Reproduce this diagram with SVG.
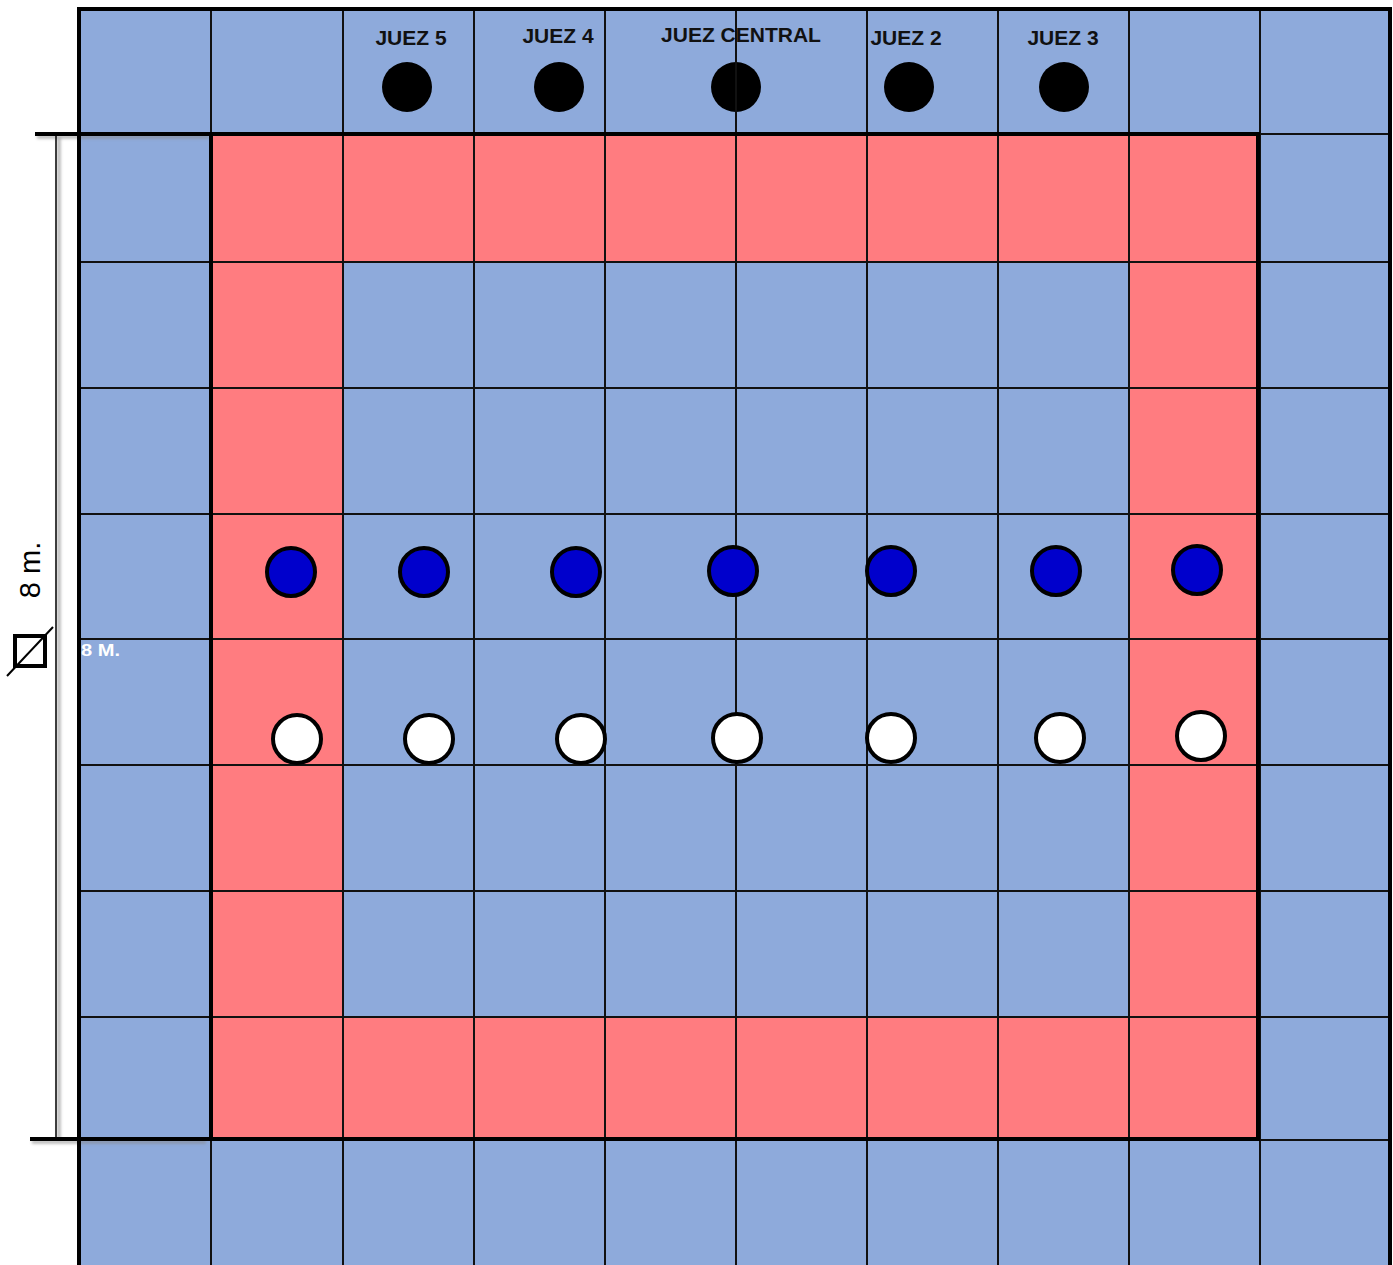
<svg xmlns="http://www.w3.org/2000/svg" width="1393" height="1265" viewBox="0 0 1393 1265">
<defs>
<filter id="sh" x="-10%" y="-50%" width="120%" height="300%">
<feGaussianBlur stdDeviation="1.5"/>
</filter>
</defs>
<style>
.b{fill:#8eaadb}
.r{fill:#ff7c80}
.g{stroke:#111;stroke-width:2;fill:none}
.t{stroke:#000;stroke-width:4;fill:none}
.j{font-family:"Liberation Sans",Arial,sans-serif;font-weight:bold;font-size:21px;fill:#111}
.pb{fill:#0000cc;stroke:#000;stroke-width:4}
.pw{fill:#fff;stroke:#000;stroke-width:4}
</style>
<rect width="1393" height="1265" fill="#fff"/>
<g id="field">
<rect class="b" x="79" y="9" width="1312" height="1256"/>
<path class="r" d="M211 134H1258V1140H211Z M343 262V1017H1129V262Z" fill-rule="evenodd"/>
</g>
<g id="judges">
<circle id="juez5" cx="407" cy="87" r="25" fill="#000"/>
<circle id="juez4" cx="559" cy="87" r="25" fill="#000"/>
<circle id="juezcentral" cx="736" cy="87" r="25" fill="#000"/>
<circle id="juez2" cx="909" cy="87" r="25" fill="#000"/>
<circle id="juez3" cx="1064" cy="87" r="25" fill="#000"/>
<text class="j" x="411" y="45" text-anchor="middle">JUEZ 5</text>
<text class="j" x="558" y="43" text-anchor="middle">JUEZ 4</text>
<text class="j" x="741" y="42" text-anchor="middle">JUEZ CENTRAL</text>
<text class="j" x="906" y="45" text-anchor="middle">JUEZ 2</text>
<text class="j" x="1063" y="45" text-anchor="middle">JUEZ 3</text>
</g>
<g id="grid">
<path class="g" d="M211 9V1265M343 9V1265M474 9V1265M605 9V1265M736 9V1265M867 9V1265M998 9V1265M1129 9V1265M1260 9V1265"/>
<path class="g" d="M79 262H1391M79 388H1391M79 514H1391M79 639H1391M79 765H1391M79 891H1391M79 1017H1391"/>
<path class="g" d="M79 134H1391M79 1140H1391"/>
</g>
<g id="frame">
<path d="M37 137H209M32 1142H206M59 137V1139" stroke="#888" stroke-width="3" fill="none" filter="url(#sh)" opacity="0.7"/>
<path class="t" d="M79 1265V9H1390V1265"/>
<path class="t" d="M35 134H1258V1139H30"/>
<path class="t" d="M211 134V1139"/>
</g>
<g id="players-blue">
<circle class="pb" cx="291" cy="572" r="24"/>
<circle class="pb" cx="424" cy="572" r="24"/>
<circle class="pb" cx="576" cy="572" r="24"/>
<circle class="pb" cx="733" cy="571" r="24"/>
<circle class="pb" cx="891" cy="571" r="24"/>
<circle class="pb" cx="1056" cy="571" r="24"/>
<circle class="pb" cx="1197" cy="570" r="24"/>
</g>
<g id="players-white">
<circle class="pw" cx="297" cy="739" r="24"/>
<circle class="pw" cx="429" cy="739" r="24"/>
<circle class="pw" cx="581" cy="739" r="24"/>
<circle class="pw" cx="737" cy="738" r="24"/>
<circle class="pw" cx="891" cy="738" r="24"/>
<circle class="pw" cx="1060" cy="738" r="24"/>
<circle class="pw" cx="1201" cy="736" r="24"/>
</g>
<g id="dimension">
<line x1="56" y1="134" x2="56" y2="1139" stroke="#000" stroke-width="1.5"/>
<text x="40" y="570" transform="rotate(-90 40 570)" text-anchor="middle" font-family="Liberation Sans,Arial,sans-serif" font-size="29" fill="#000">8 m.</text>
<rect x="15" y="636" width="30" height="30" fill="none" stroke="#000" stroke-width="4"/>
<line x1="7" y1="676" x2="53" y2="627" stroke="#000" stroke-width="2"/>
<text x="81" y="656" font-family="Liberation Sans,Arial,sans-serif" font-weight="bold" font-size="17" textLength="39" lengthAdjust="spacingAndGlyphs" fill="#fff">8 M.</text>
</g>
</svg>
